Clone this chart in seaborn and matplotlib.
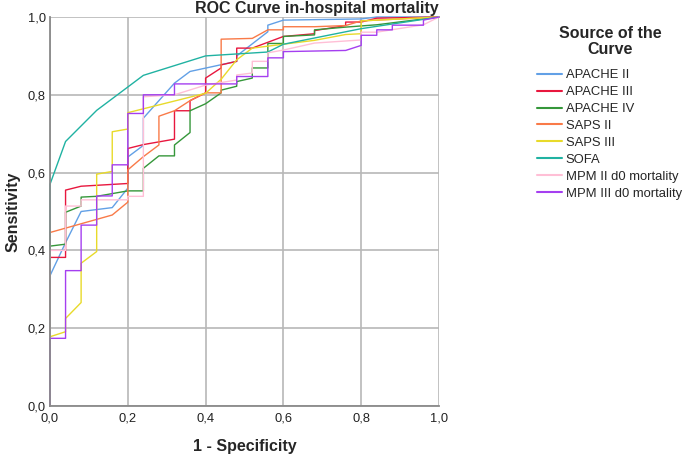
import numpy as np
import pandas as pd
import seaborn as sns
import matplotlib
import matplotlib.pyplot as plt

sns.set_style('white')
plt.rcParams['font.family'] = ['Liberation Sans', 'DejaVu Sans']

# ROC points (1 - specificity, sensitivity)
apache2_x = [0, 0, 0.04, 0.08, 0.16, 0.2, 0.2, 0.24, 0.24, 0.32, 0.36, 0.48, 0.48, 0.56, 0.56, 0.6, 0.8, 0.84, 1.0]
apache2_y = [0, 0.335, 0.42, 0.50, 0.51, 0.56, 0.64, 0.67, 0.74, 0.83, 0.86, 0.886, 0.90, 0.962, 0.979, 0.992, 0.995, 1.0, 1.0]

apache3_x = [0, 0, 0.04, 0.04, 0.08, 0.2, 0.2, 0.24, 0.32, 0.32, 0.36, 0.36, 0.4, 0.4, 0.44, 0.44,
             0.48, 0.48, 0.52, 0.6, 0.68, 0.68, 0.76, 0.76, 0.8, 0.84, 1.0]
apache3_y = [0, 0.382, 0.382, 0.555, 0.565, 0.572, 0.662, 0.672, 0.686, 0.759, 0.759, 0.785, 0.805, 0.843, 0.869, 0.877,
             0.886, 0.920, 0.920, 0.95, 0.957, 0.965, 0.978, 0.987, 0.987, 0.997, 1.0]

apache4_x = [0, 0, 0.04, 0.04, 0.08, 0.08, 0.12, 0.2, 0.24, 0.24, 0.28, 0.32, 0.32, 0.36, 0.36, 0.4,
             0.44, 0.44, 0.48, 0.48, 0.52, 0.52, 0.56, 0.56, 0.6, 0.6, 0.68, 0.68, 0.76, 0.84, 1.0]
apache4_y = [0, 0.411, 0.416, 0.498, 0.514, 0.537, 0.539, 0.553, 0.553, 0.611, 0.643, 0.643, 0.671, 0.703, 0.759, 0.777,
             0.805, 0.812, 0.822, 0.834, 0.843, 0.869, 0.869, 0.932, 0.932, 0.95, 0.954, 0.967, 0.974, 0.98, 1.0]

saps2_x = [0, 0, 0.16, 0.2, 0.2, 0.24, 0.28, 0.28, 0.32, 0.36, 0.4, 0.44, 0.44, 0.52, 0.56, 0.6, 0.6, 0.68, 0.76, 0.8, 1.0]
saps2_y = [0, 0.446, 0.491, 0.524, 0.607, 0.641, 0.671, 0.745, 0.759, 0.785, 0.805, 0.805, 0.943, 0.945, 0.967, 0.967,
           0.975, 0.975, 0.978, 0.99, 1.0]

saps3_x = [0, 0, 0.04, 0.04, 0.08, 0.08, 0.12, 0.12, 0.16, 0.16, 0.2, 0.2, 0.4, 0.44, 0.48, 0.52, 0.6, 0.68, 0.76, 0.8, 0.8, 1.0]
saps3_y = [0, 0.178, 0.191, 0.225, 0.266, 0.367, 0.397, 0.596, 0.603, 0.705, 0.712, 0.754, 0.804, 0.84, 0.89, 0.92,
           0.93, 0.94, 0.955, 0.957, 0.99, 1.0]

sofa_x = [0, 0, 0.04, 0.12, 0.2, 0.24, 0.4, 0.56, 0.6, 0.8, 1.0]
sofa_y = [0, 0.57, 0.68, 0.76, 0.82, 0.85, 0.90, 0.91, 0.93, 0.97, 1.0]

mpm2_x = [0, 0, 0.04, 0.04, 0.08, 0.08, 0.2, 0.2, 0.24, 0.24, 0.32, 0.4, 0.48, 0.48, 0.52, 0.52, 0.56, 0.56,
          0.6, 0.68, 0.8, 0.8, 0.84, 0.96, 1.0]
mpm2_y = [0, 0.40, 0.40, 0.514, 0.514, 0.53, 0.53, 0.539, 0.539, 0.795, 0.80, 0.825, 0.838, 0.851, 0.856, 0.886,
          0.886, 0.908, 0.915, 0.933, 0.941, 0.961, 0.961, 0.98, 1.0]

mpm3_x = [0, 0, 0.04, 0.04, 0.08, 0.08, 0.12, 0.12, 0.16, 0.16, 0.2, 0.2, 0.24, 0.24, 0.32, 0.32, 0.48, 0.48,
          0.56, 0.56, 0.6, 0.6, 0.76, 0.8, 0.8, 0.84, 0.84, 0.88, 0.88, 0.96, 0.96, 1.0]
mpm3_y = [0, 0.174, 0.174, 0.348, 0.348, 0.465, 0.465, 0.54, 0.54, 0.62, 0.62, 0.752, 0.752, 0.80, 0.80, 0.828,
          0.828, 0.847, 0.847, 0.895, 0.895, 0.911, 0.914, 0.927, 0.953, 0.953, 0.967, 0.967, 0.979, 0.979, 0.992, 1.0]

curves = {
    'APACHE II': (apache2_x, apache2_y),
    'APACHE III': (apache3_x, apache3_y),
    'APACHE IV': (apache4_x, apache4_y),
    'SAPS II': (saps2_x, saps2_y),
    'SAPS III': (saps3_x, saps3_y),
    'SOFA': (sofa_x, sofa_y),
    'MPM II d0 mortality': (mpm2_x, mpm2_y),
    'MPM III d0 mortality': (mpm3_x, mpm3_y),
}
palette = {
    'APACHE II': '#62A0E6',
    'APACHE III': '#E8173E',
    'APACHE IV': '#35973A',
    'SAPS II': '#F97A48',
    'SAPS III': '#E8DA2A',
    'SOFA': '#20B2A2',
    'MPM II d0 mortality': '#FFBFD6',
    'MPM III d0 mortality': '#A53FF0',
}

df = pd.concat([pd.DataFrame({'x': xs, 'y': ys, 'source': name})
                for name, (xs, ys) in curves.items()], ignore_index=True)

fig = plt.figure(figsize=(6.83, 4.57), dpi=100)
ax = fig.add_axes([50 / 683, 51 / 457, 389 / 683, 389 / 457])

sns.lineplot(data=df, x='x', y='y', hue='source', palette=palette,
             sort=False, estimator=None, linewidth=1.0, ax=ax)
for line in ax.lines:
    line.set_clip_on(False)

ticks = np.arange(0, 1.01, 0.2)
ticklabels = [f'{t:.1f}'.replace('.', ',') for t in ticks]
ax.set_xlim(0, 1)
ax.set_ylim(0, 1)
ax.set_xticks(ticks)
ax.set_xticklabels(ticklabels)
ax.set_yticks(ticks)
ax.set_yticklabels(ticklabels)
ax.tick_params(axis='x', length=0, pad=5, labelsize=9.3, colors='#222222')
ax.tick_params(axis='y', length=0, pad=3, labelsize=9.3, colors='#222222')
ax.grid(True, color='#b8b8b8', linewidth=1.2)
ax.set_axisbelow(True)
for side in ['top', 'right']:
    ax.spines[side].set_visible(False)
for side in ['left', 'bottom']:
    ax.spines[side].set_color('#8a8a8a')
    ax.spines[side].set_linewidth(1.3)

ax.set_title('ROC Curve in-hospital mortality', loc='right', fontsize=11.5,
             fontweight='bold', pad=3)
ax.set_xlabel('1 - Specificity', fontsize=11.5, fontweight='bold')
ax.set_ylabel('Sensitivity', fontsize=11.5, fontweight='bold')
ax.xaxis.set_label_coords(0.5, -0.085)
ax.yaxis.set_label_coords(-0.075, 0.5)

old = ax.get_legend()
handles = old.legend_handles
labels = [t.get_text() for t in old.get_texts()]
old.remove()
for h in handles:
    h.set_linewidth(1.5)
fig.legend(handles, labels, loc='upper left',
           bbox_to_anchor=(537 / 683, 1 - 69 / 457), frameon=False, fontsize=9.4,
           borderpad=0, borderaxespad=0,
           handlelength=1.9, handletextpad=0.3, labelspacing=0.37)
fig.text(610 / 683, 1 - 26 / 457, 'Source of the\nCurve', ha='center', va='top',
         fontsize=11.5, fontweight='bold', linespacing=1.1)

fig.savefig('out.png', dpi=100)
